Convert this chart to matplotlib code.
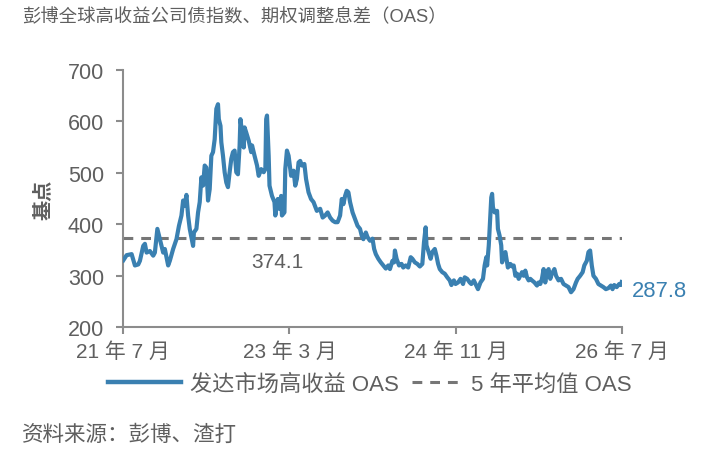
import matplotlib
matplotlib.use("Agg")
import matplotlib.pyplot as plt
from matplotlib.lines import Line2D

plt.rcParams['font.family'] = ['Liberation Sans', 'Noto Sans CJK SC']

# Months since Jul 2021 and OAS (bp)
months = [0.0, 0.4, 1.0, 1.4, 1.8, 2.0, 2.4, 2.6, 2.8, 3.2, 3.6, 3.8, 4.1, 4.3, 4.6, 4.8,
          5.0, 5.4, 5.6, 6.0, 6.4, 6.7, 7.0, 7.2, 7.4, 7.6, 7.8, 8.0, 8.4, 8.5, 8.8, 9.0,
          9.2, 9.4, 9.6, 9.8, 10.0, 10.2, 10.4, 10.6, 10.8, 11.0, 11.2, 11.4, 11.5, 11.7,
          11.8, 12.0, 12.2, 12.4, 12.6, 12.8, 13.0, 13.2, 13.4, 13.6, 13.8, 14.0, 14.1,
          14.3, 14.5, 14.6, 14.8, 15.1, 15.4, 15.5, 15.8, 16.1, 16.3, 16.6, 16.9, 17.1,
          17.2, 17.3, 17.5, 17.6, 17.9, 18.2, 18.3, 18.6, 18.8, 19.0, 19.1, 19.4, 19.5,
          19.7, 19.9, 20.2, 20.5, 20.7, 20.9, 21.1, 21.3, 21.5, 21.8, 22.0, 22.3, 22.6,
          22.9, 23.3, 23.7, 24.0, 24.3, 24.6, 24.9, 25.2, 25.5, 25.8, 26.1, 26.3, 26.5,
          26.7, 26.9, 27.1, 27.3, 27.6, 27.9, 28.2, 28.5, 28.7, 28.9, 29.2, 29.4, 29.7,
          30.0, 30.2, 30.4, 30.7, 31.0, 31.3, 31.6, 31.9, 32.1, 32.4, 32.6, 32.7, 32.9,
          33.2, 33.5, 33.7, 34.0, 34.3, 34.6, 34.8, 35.1, 35.4, 35.7, 36.0, 36.2, 36.4,
          36.5, 36.7, 37.0, 37.2, 37.5, 37.7, 37.9, 38.1, 38.4, 38.7, 39.0, 39.3, 39.5,
          39.8, 40.0, 40.3, 40.6, 40.9, 41.1, 41.4, 41.7, 41.9, 42.2, 42.5, 42.7, 43.0,
          43.3, 43.5, 43.7, 43.8, 44.0, 44.1, 44.3, 44.4, 44.5, 44.7, 45.0, 45.1, 45.3,
          45.5, 45.6, 45.8, 46.0, 46.2, 46.3, 46.6, 46.8, 47.0, 47.2, 47.4, 47.6, 48.0,
          48.2, 48.4, 48.6, 48.8, 49.0, 49.2, 49.5, 49.8, 50.0, 50.2, 50.4, 50.6, 50.8,
          51.0, 51.2, 51.4, 51.6, 51.9, 52.1, 52.4, 52.7, 53.0, 53.3, 53.6, 53.9, 54.2,
          54.5, 54.7, 55.0, 55.3, 55.5, 55.8, 56.0, 56.2, 56.4, 56.6, 56.9, 57.2, 57.5,
          57.8, 58.1, 58.4, 58.7, 58.9, 59.1, 59.4, 59.7, 59.9, 60.0]
oas = [330, 340, 342, 320, 322, 329, 358, 362, 345, 348, 339, 345, 391, 378, 358, 345,
       352, 320, 329, 352, 371, 397, 417, 446, 436, 457, 417, 391, 358, 384, 391, 423,
       443, 491, 475, 514, 510, 446, 468, 533, 540, 565, 624, 633, 604, 591,
       559, 533, 501, 481, 472, 501, 527, 540, 543, 501, 497, 552, 604,
       578, 549, 588, 578, 562, 540, 553, 533, 514, 494, 507, 501, 507,
       604, 611, 533, 475, 455, 443, 417, 449, 430, 455, 417, 423, 507,
       543, 533, 494, 504, 475, 488, 520, 523, 514, 517, 488, 462, 449,
       443, 426, 430, 413, 417, 423, 413, 407, 404, 404, 417, 449, 439,
       455, 465, 462, 443, 423, 410, 397, 391, 378, 371, 384, 375, 368,
       372, 352, 342, 333, 326, 320, 314, 320, 313, 329, 326, 349, 333,
       320, 323, 316, 320, 316, 336, 333, 326, 323, 318, 323, 365, 394,
       359, 349, 333, 346, 352, 339, 323, 313, 307, 304, 297, 291, 282,
       291, 284, 287, 294, 284, 297, 294, 287, 284, 291, 281, 274, 287,
       294, 320, 336, 320, 359, 391, 452, 459, 433, 423, 426, 391, 378,
       359, 326, 339, 346, 326, 316, 323, 318, 320, 300, 304, 294, 307,
       300, 310, 297, 291, 294, 291, 287, 281, 287, 284, 294, 313, 287,
       307, 313, 294, 304, 313, 300, 291, 294, 284, 281, 278, 268, 274,
       287, 294, 300, 307, 320, 329, 346, 349, 320, 300, 294, 284, 281,
       278, 274, 276, 281, 274, 282, 278, 284, 282, 287.8]

avg_5y = 374.1
last_value = 287.8
tick_months = [0, 20, 40, 60]
tick_labels = ['21 年 7 月', '23 年 3 月', '24 年 11 月', '26 年 7 月']
y_ticks = [200, 300, 400, 500, 600, 700]

blue = '#3A80B1'
grey_dash = '#767676'
txt = '#5F5F5F'
axis_grey = '#8C8C8C'

fig = plt.figure(figsize=(7.14, 4.64), dpi=100)
ax = fig.add_axes([0.1727, 0.2925, 0.698, 0.5551])

ax.axhline(avg_5y, color=grey_dash, lw=2.2, dashes=(3.2, 2.6), zorder=2)
ax.plot(months, oas, color=blue, lw=3.0, solid_joinstyle='round', zorder=3)

ax.set_xlim(0, 60)
ax.set_ylim(200, 700)
ax.set_yticks(y_ticks)
ax.set_xticks(tick_months)
ax.set_xticklabels(tick_labels)

for s in ['top', 'right']:
    ax.spines[s].set_visible(False)
for s in ['left', 'bottom']:
    ax.spines[s].set_color(axis_grey)
    ax.spines[s].set_linewidth(1.5)
ax.tick_params(axis='both', colors=axis_grey, width=1.5, length=5, labelcolor=txt)
ax.tick_params(axis='x', pad=5, labelsize=15)
ax.tick_params(axis='y', pad=9, labelsize=15.5)

fig.text(43 / 714, 1 - 200 / 464, '基点', rotation=90, fontsize=14.5, color=txt,
         fontweight='bold', ha='center', va='center')

ax.text(18.6, 327, f'{avg_5y:.1f}', color=txt, fontsize=15, ha='center', va='center')
ax.annotate(f'{last_value:.1f}', xy=(60, 272), xytext=(7, 0), textcoords='offset points',
            color=blue, fontsize=15.8, ha='left', va='center', annotation_clip=False)

fig.text(0.031, 0.963, '彭博全球高收益公司债指数、期权调整息差（OAS）', fontsize=13.2,
         color=txt, ha='left', va='center')
fig.text(0.031, 0.0625, '资料来源：彭博、渣打', fontsize=15.5, color=txt, ha='left', va='center')

leg1 = fig.legend([Line2D([], [], color=blue, lw=3.2)], ['发达市场高收益 OAS'],
                  loc='center left', bbox_to_anchor=(108 / 714, 1 - 385 / 464),
                  frameon=False, fontsize=16, labelcolor=txt, handlelength=3.3,
                  handletextpad=0.4, borderpad=0, borderaxespad=0)
leg2 = fig.legend([Line2D([], [], color=grey_dash, lw=2.2, dashes=(3.2, 2.6))],
                  ['5 年平均值 OAS'],
                  loc='center left', bbox_to_anchor=(412 / 714, 1 - 385 / 464),
                  frameon=False, fontsize=16, labelcolor=txt, handlelength=2.2,
                  handletextpad=0.45, borderpad=0, borderaxespad=0)

fig.savefig('out.png', dpi=100)
